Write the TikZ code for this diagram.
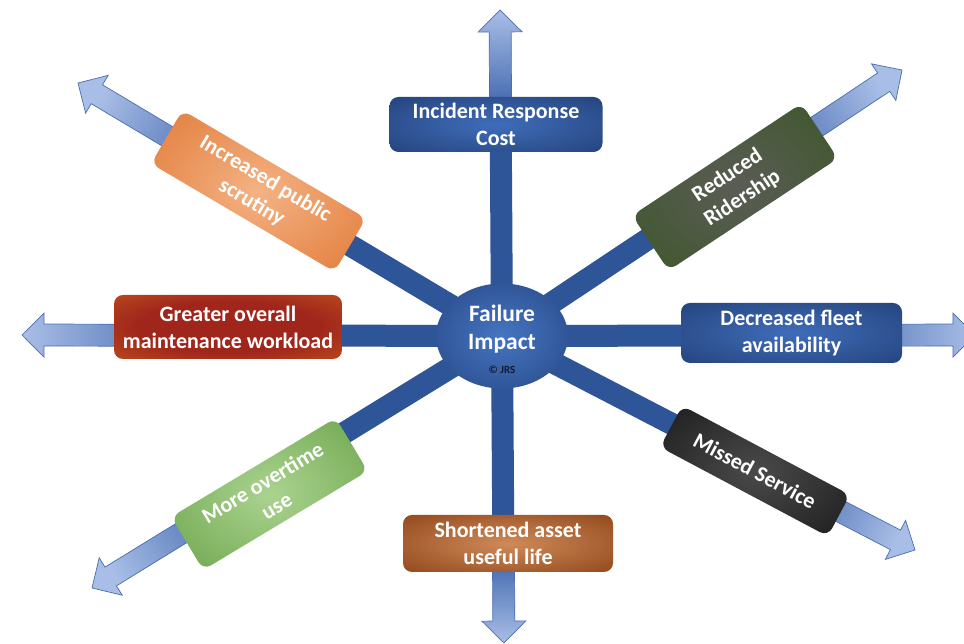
\documentclass[tikz,border=0pt]{standalone}
\usepackage{fontspec}
\setmainfont{Carlito}
\usetikzlibrary{calc,shapes.geometric}

\definecolor{shaftcol}{HTML}{2E5597}
\definecolor{raystart}{HTML}{3058A4}
\definecolor{raytip}{HTML}{A8BEE6}
\definecolor{rayedge}{HTML}{4A6CB0}
\definecolor{jrscol}{HTML}{151A30}

\definecolor{blueIn}{HTML}{3F6DBA}
\definecolor{blueOut}{HTML}{1E386B}
\definecolor{redIn}{HTML}{A0261C}
\definecolor{redOut}{HTML}{CB621B}
\definecolor{brownIn}{HTML}{D08A58}
\definecolor{brownOut}{HTML}{80370C}
\definecolor{orangeIn}{HTML}{F4B283}
\definecolor{orangeOut}{HTML}{DC6C25}
\definecolor{dgreenIn}{HTML}{5A5C55}
\definecolor{dgreenOut}{HTML}{36561E}
\definecolor{blackIn}{HTML}{4A4A4A}
\definecolor{blackOut}{HTML}{101010}
\definecolor{lgreenIn}{HTML}{AAD390}
\definecolor{lgreenOut}{HTML}{5E993B}
\definecolor{centIn}{HTML}{4575C2}
\definecolor{centOut}{HTML}{1E3A72}

\pgfdeclareradialshading{shBlue}{\pgfpoint{0bp}{0bp}}{color(0bp)=(blueIn); color(46bp)=(blueOut); color(72bp)=(blueOut)}
\pgfdeclareradialshading{shRed}{\pgfpoint{0bp}{0bp}}{color(0bp)=(redIn); color(20bp)=(redIn); color(48bp)=(redOut); color(72bp)=(redOut)}
\pgfdeclareradialshading{shBrown}{\pgfpoint{0bp}{0bp}}{color(0bp)=(brownIn); color(46bp)=(brownOut); color(72bp)=(brownOut)}
\pgfdeclareradialshading{shOrange}{\pgfpoint{0bp}{0bp}}{color(0bp)=(orangeIn); color(46bp)=(orangeOut); color(72bp)=(orangeOut)}
\pgfdeclareradialshading{shDgreen}{\pgfpoint{0bp}{0bp}}{color(0bp)=(dgreenIn); color(46bp)=(dgreenOut); color(72bp)=(dgreenOut)}
\pgfdeclareradialshading{shBlack}{\pgfpoint{0bp}{0bp}}{color(0bp)=(blackIn); color(46bp)=(blackOut); color(72bp)=(blackOut)}
\pgfdeclareradialshading{shLgreen}{\pgfpoint{0bp}{0bp}}{color(0bp)=(lgreenIn); color(46bp)=(lgreenOut); color(72bp)=(lgreenOut)}
\pgfdeclareradialshading{shCent}{\pgfpoint{0bp}{0bp}}{color(0bp)=(centIn); color(48bp)=(centOut); color(72bp)=(centOut)}

\pgfdeclarelayer{back}
\pgfdeclarelayer{rays}
\pgfsetlayers{back,rays,main}

% #1 box node, #2 tip coordinate, #3 shading angle
\newcommand\rayto[3]{%
  \coordinate (p#1) at ($(c.center)!(#1.center)!(#2)$);
  \draw[shaftline] (c.center) -- (p#1);
  \coordinate (b#1) at ($(#2)!22pt!(p#1)$);
  \draw[rayout, shading angle=#3]
    ($(p#1)!11pt!90:(#2)$) -- ($(b#1)!11pt!90:(#2)$) -- ($(b#1)!22pt!90:(#2)$)
    -- (#2) -- ($(b#1)!22pt!-90:(#2)$) -- ($(b#1)!11pt!-90:(#2)$)
    -- ($(p#1)!11pt!-90:(#2)$) -- cycle;
}

\begin{document}
\begin{tikzpicture}[x=1pt,y=1pt,
  lbl/.style={rounded corners=9pt, align=center, text=white,
    font=\bfseries\fontsize{22}{27}\selectfont, inner sep=2pt},
  shaftline/.style={draw=shaftcol, line width=22pt},
  rayout/.style={draw=rayedge, line width=0.7pt, bottom color=raystart, top color=raytip},
  ctxt/.style={text=white, align=center, font=\bfseries\fontsize{23.5}{28}\selectfont, inner sep=0pt},
]
\useasboundingbox (0,0) rectangle (964,644);
\begin{pgfonlayer}{back}
  \fill[white] (0,0) rectangle (964,644);
\end{pgfonlayer}

% centre
\node[ellipse, shading=shCent, minimum width=132pt, minimum height=105pt, inner sep=0pt] (c) at (502,308) {};
\node[ctxt] (ct) at (502,315) {Failure\\Impact};
\node[text=jrscol, font=\bfseries\fontsize{11}{13}\selectfont, inner sep=0pt] (cr) at (502,274) {© JRS};

% tips
\coordinate (tu) at (500,634);
\coordinate (td) at (504,1);
\coordinate (tl) at (22,309);
\coordinate (tr) at (975,309);
\coordinate (tul) at (78,561);
\coordinate (tur) at (902,574);
\coordinate (tlr) at (915,94);
\coordinate (tll) at (92,56);

% boxes
\node[lbl, shading=shBlue, minimum width=213pt, minimum height=55pt] (irc) at (496,519.5) {Incident Response\\Cost};
\node[lbl, shading=shBrown, minimum width=210pt, minimum height=57pt] (sal) at (508,100.5) {Shortened asset\\useful life};
\node[lbl, shading=shRed, minimum width=228pt, minimum height=64pt] (gom) at (228,317) {Greater overall\\maintenance workload};
\node[lbl, shading=shBlue, minimum width=221pt, minimum height=60pt] (dfa) at (791.5,311) {Decreased fleet\\availability};
\node[lbl, shading=shOrange, minimum width=213pt, minimum height=62pt, rotate=-30.5] (ips) at (258.5,453) {Increased public\\scrutiny};
\node[lbl, shading=shDgreen, minimum width=203pt, minimum height=66pt, rotate=33.5] (rr) at (735,457) {Reduced\\Ridership};
\node[lbl, shading=shBlack, minimum width=190pt, minimum height=47pt, rotate=-28] (ms) at (755,173) {Missed Service};
\node[lbl, shading=shLgreen, minimum width=192pt, minimum height=62pt, rotate=31] (mou) at (269.5,150) {More overtime\\use};

% rays
\begin{pgfonlayer}{rays}
  \rayto{irc}{tu}{0}
  \rayto{sal}{td}{-180}
  \rayto{gom}{tl}{90}
  \rayto{dfa}{tr}{-90}
  \rayto{ips}{tul}{59.3}
  \rayto{rr}{tur}{-56.5}
  \rayto{ms}{tlr}{-117.5}
  \rayto{mou}{tll}{121.5}
\end{pgfonlayer}
\end{tikzpicture}
\end{document}
